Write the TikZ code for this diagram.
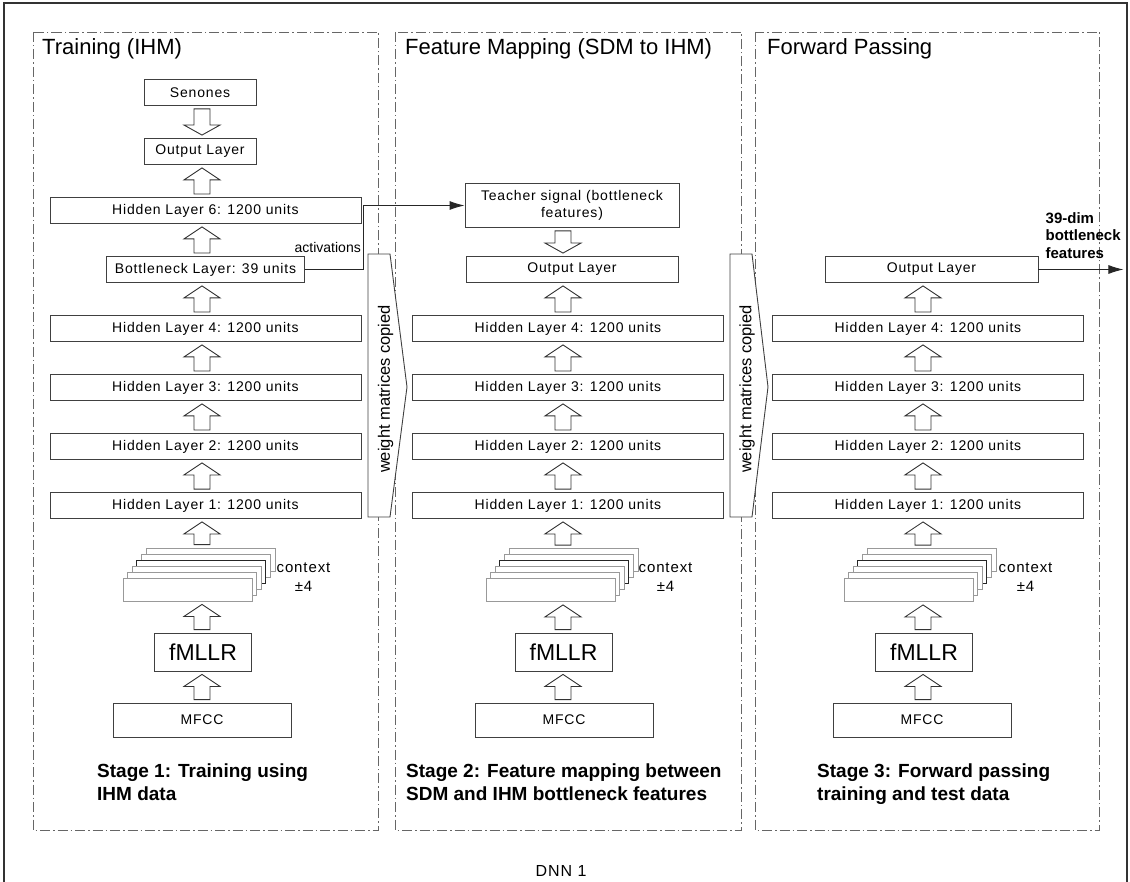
\documentclass[tikz,border=0pt]{standalone}
\usepackage{fontspec}
\setmainfont{Liberation Sans}
\newfontfamily\boxfont[LetterSpace=6]{Liberation Sans}
\usepackage{tikz}
\usetikzlibrary{arrows.meta,calc}

% hollow block arrows between two named nodes, centred on the x of an axis coordinate
\newcommand{\blockup}[3]{%
  \draw[blockArrow] let \p1=(#1), \p2=(#2.north), \p3=(#3.south) in
    ({\x1-8pt},{\y2+3pt}) -- ({\x1-8pt},{\y3-15pt}) -- ({\x1-18pt},{\y3-15pt}) -- ({\x1},{\y3-3pt})
    -- ({\x1+18pt},{\y3-15pt}) -- ({\x1+8pt},{\y3-15pt}) -- ({\x1+8pt},{\y2+3pt}) -- cycle;}
\newcommand{\blockdown}[3]{%
  \draw[blockArrow] let \p1=(#1), \p2=(#2.south), \p3=(#3.north) in
    ({\x1-8pt},{\y2-3pt}) -- ({\x1-8pt},{\y3+13pt}) -- ({\x1-18pt},{\y3+13pt}) -- ({\x1},{\y3+3pt})
    -- ({\x1+18pt},{\y3+13pt}) -- ({\x1+8pt},{\y3+13pt}) -- ({\x1+8pt},{\y2-3pt}) -- cycle;}
% stack of context frames, front box at (#2,#3)
\newcommand{\ctxstack}[3]{%
  \foreach \i/\c in {5/black!40,4/black!40,3/black!85,2/black!40,1/black!40,0/black!40}
    \node[ctxBox, draw=\c] (#1\i) at ({#2+4.6*\i},{#3-6*\i}) {};}

\begin{document}
\begin{tikzpicture}[x=1pt,y=-1pt,>=latex]
  \tikzstyle{layerBox} = [draw=black!75, line width=0.9pt, fill=white, rectangle, minimum height=26pt, minimum width=311pt, inner sep=0pt, node distance=59pt, font={\boxfont\fontsize{14}{17}\selectfont}]
  \tikzstyle{ctxBox} = [line width=0.9pt, fill=white, rectangle, minimum height=23pt, minimum width=129pt, inner sep=0pt]
  \tikzstyle{fmBox} = [draw=black!75, line width=0.9pt, fill=white, rectangle, minimum height=38pt, minimum width=97pt, inner sep=0pt, font={\fontsize{23}{26}\selectfont}]
  \tikzstyle{mfBox} = [layerBox, minimum height=34pt, minimum width=178pt]
  \tikzstyle{blockArrow} = [draw=black!80, line width=0.9pt, fill=white]
  \tikzstyle{stageFrame} = [draw=black!60, line width=0.9pt, dash pattern=on 10pt off 3pt on 1.5pt off 3pt]
  \tikzstyle{featEdge} = [draw=black!85, line width=0.9pt, -{Latex[length=15pt,width=9pt]}]
  \tikzstyle{stageTitle} = [anchor=base west, inner sep=0pt, font={\fontsize{22}{26}\selectfont}]
  \tikzstyle{stageNote} = [anchor=north west, inner sep=0pt, align=left, font={\bfseries\fontsize{19}{22.5}\selectfont}]
  \tikzstyle{ctxLabel} = [inner sep=0pt, align=center, font={\boxfont\fontsize{15}{19}\selectfont}]
  \tikzstyle{edgeLabel} = [inner sep=0pt, font={\fontsize{14}{17}\selectfont}]
  \tikzstyle{copyLabel} = [rotate=90, inner sep=0pt, font={\fontsize{16.5}{19}\selectfont}]
  \tikzstyle{wBox} = [draw=black!75, line width=0.9pt, fill=white]

  \useasboundingbox (0,0) rectangle (1130,882);

  % frame and stages
  \draw[draw=black!80, line width=1.6pt] (4,3) rectangle (1127,895);
  \draw[stageFrame] (33,32) rectangle (378,830);
  \draw[stageFrame] (395,32) rectangle (741,830);
  \draw[stageFrame] (755,32) rectangle (1099,830);
  \node[stageTitle] (tA) at (42,55) {Training (IHM)};
  \node[stageTitle] (tB) at (405,55) {Feature Mapping (SDM to IHM)};
  \node[stageTitle] (tC) at (767,55) {Forward Passing};

  \coordinate (axA) at (202,0);
  \coordinate (axB) at (563,0);
  \coordinate (axC) at (923,0);

  % stage 1
  \node[layerBox]                    (hA1) at (205.5,505.5) {Hidden Layer 1: 1200 units};
  \node[layerBox]                    (hA2) [above of=hA1] {Hidden Layer 2: 1200 units};
  \node[layerBox]                    (hA3) [above of=hA2] {Hidden Layer 3: 1200 units};
  \node[layerBox]                    (hA4) [above of=hA3] {Hidden Layer 4: 1200 units};
  \node[layerBox, minimum width=198pt] (bnA) [above of=hA4] {Bottleneck Layer: 39 units};
  \node[layerBox]                    (h6A) [above of=bnA] {Hidden Layer 6: 1200 units};
  \node[layerBox, minimum width=112pt, xshift=-5.5pt] (outA) [above of=h6A] {Output Layer};
  \node[layerBox, minimum width=112pt] (senA) [above of=outA] {Senones};
  \ctxstack{ctxA}{187.5}{589.5}
  \node[ctxLabel] (cxA) at (303.5,577.5) {context\\±4};
  \node[fmBox] (fmA) at (203,652) {fMLLR};
  \node[mfBox] (mfA) at (202,720) {MFCC};

  % stage 2
  \node[layerBox]                    (hB1) at (568,505.5) {Hidden Layer 1: 1200 units};
  \node[layerBox]                    (hB2) [above of=hB1] {Hidden Layer 2: 1200 units};
  \node[layerBox]                    (hB3) [above of=hB2] {Hidden Layer 3: 1200 units};
  \node[layerBox]                    (hB4) [above of=hB3] {Hidden Layer 4: 1200 units};
  \node[layerBox, minimum width=212pt, xshift=4pt] (outB) [above of=hB4] {Output Layer};
  \node[layerBox, minimum width=214pt, minimum height=44pt, align=center, node distance=64pt] (teachB) [above of=outB] {Teacher signal (bottleneck\\features)};
  \ctxstack{ctxB}{550.5}{590}
  \node[ctxLabel] (cxB) at (665.5,577.5) {context\\±4};
  \node[fmBox] (fmB) at (563.5,652) {fMLLR};
  \node[mfBox] (mfB) at (564,720) {MFCC};

  % stage 3
  \node[layerBox]                    (hC1) at (928,505.5) {Hidden Layer 1: 1200 units};
  \node[layerBox]                    (hC2) [above of=hC1] {Hidden Layer 2: 1200 units};
  \node[layerBox]                    (hC3) [above of=hC2] {Hidden Layer 3: 1200 units};
  \node[layerBox]                    (hC4) [above of=hC3] {Hidden Layer 4: 1200 units};
  \node[layerBox, minimum width=213pt, xshift=3.5pt] (outC) [above of=hC4] {Output Layer};
  \ctxstack{ctxC}{908.5}{590}
  \node[ctxLabel] (cxC) at (1025.5,577.5) {context\\±4};
  \node[fmBox] (fmC) at (924,652) {fMLLR};
  \node[mfBox] (mfC) at (922,720) {MFCC};

  % block arrows
  \foreach \s in {A,B,C} {
    \foreach \i [evaluate=\i as \j using int(\i+1)] in {1,2,3}
      \blockup{ax\s}{h\s\i}{h\s\j};
    \blockup{ax\s}{ctx\s5}{h\s1}
    \blockup{ax\s}{fm\s}{ctx\s0}
    \blockup{ax\s}{mf\s}{fm\s}
  }
  \blockup{axA}{hA4}{bnA}
  \blockup{axA}{bnA}{h6A}
  \blockup{axA}{h6A}{outA}
  \blockdown{axA}{senA}{outA}
  \blockup{axB}{hB4}{outB}
  \blockdown{axB}{teachB}{outB}
  \blockup{axC}{hC4}{outC}

  % weights copied between stages
  \draw[wBox] (368,254) -- (390,254) -- (407,387) -- (390,517) -- (368,517) -- cycle;
  \node[copyLabel] (wAB) at (385.5,389) {weight matrices copied};
  \draw[wBox] (730,254) -- (752,254) -- (768,387) -- (752,517) -- (730,517) -- cycle;
  \node[copyLabel] (wBC) at (747,389) {weight matrices copied};

  % activations and output features
  \draw[featEdge] (bnA.east) -- ++(58,0) |- (teachB.west);
  \node[edgeLabel, anchor=base east] (actA) at (361,253) {activations};
  \draw[featEdge] (outC.east) -- ++(85,0);
  \node[anchor=south west, inner sep=0pt, align=left, font={\bfseries\fontsize{15}{17.5}\selectfont}] (featC) at ([xshift=7pt, yshift=11pt]outC.east) {39-dim\\bottleneck\\features};

  % captions
  \node[stageNote] (nA) at (97,764) {Stage 1: Training using\\IHM data};
  \node[stageNote] (nB) at (406,764) {Stage 2: Feature mapping between\\SDM and IHM bottleneck features};
  \node[stageNote] (nC) at (817,764) {Stage 3: Forward passing\\training and test data};
  \node[font={\boxfont\fontsize{16}{19}\selectfont}] (dnn) at (561,871) {DNN 1};
\end{tikzpicture}
\end{document}
